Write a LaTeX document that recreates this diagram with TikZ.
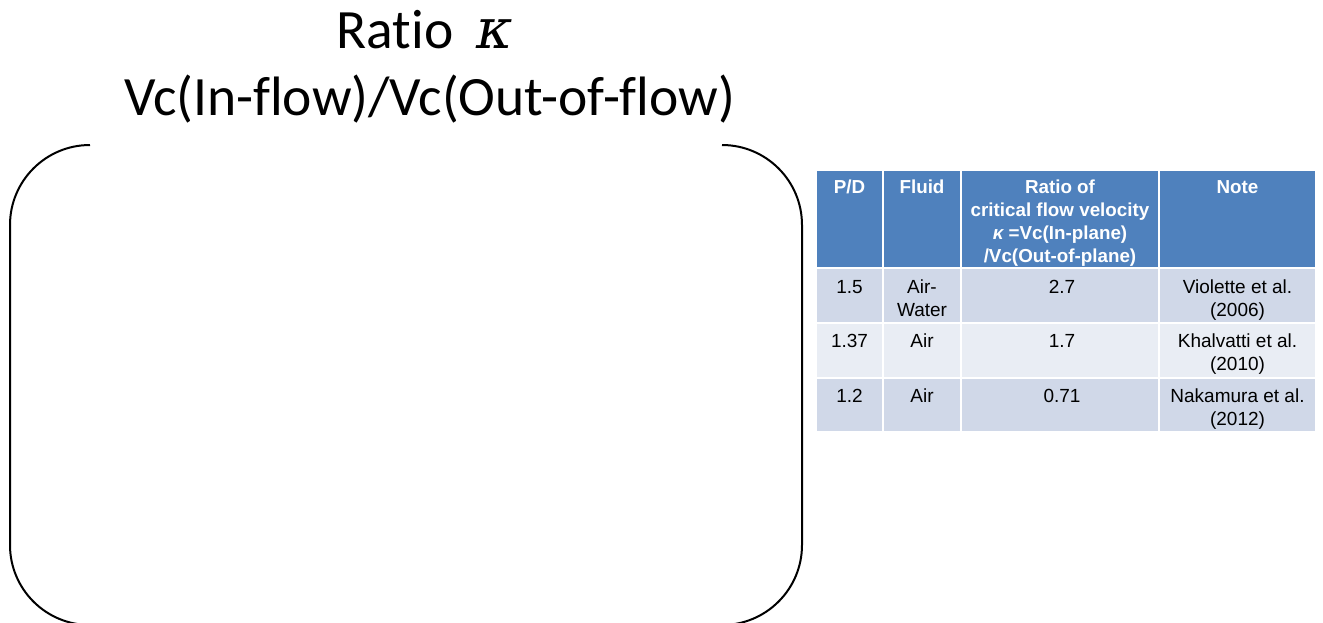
\documentclass[tikz,border=0pt]{standalone}
\usepackage{fontspec}
\setmainfont{Liberation Sans}
\newfontfamily\titlefont[Ligatures=NoCommon]{Carlito}
\newfontfamily\kappafont{DejaVu Serif}
\definecolor{hdrblue}{HTML}{4F81BD}
\definecolor{rowdark}{HTML}{D0D8E8}
\definecolor{rowlight}{HTML}{E9EDF4}
\begin{document}
\begin{tikzpicture}[x=1pt,y=-1pt,
  cellbox/.style={draw=white,line width=2.5pt},
  hdrtext/.style={anchor=north,inner sep=0pt,align=center,text=white,font=\fontsize{18.8}{23}\selectfont\bfseries},
  bodytext/.style={anchor=north,inner sep=0pt,align=center,text=black,font=\fontsize{19}{23}\selectfont},
  frame/.style={line width=2pt,black},
  titletext/.style={anchor=base,inner sep=0pt,font=\titlefont\fontsize{55.5}{60}\selectfont}]
\clip (0,0) rectangle (1323,622);
\fill[white] (0,0) rectangle (1323,622);
% title
\node[titletext] (t1) at (425,48) {Ratio\hspace{0.42em}{\kappafont\itshape κ}};
\node[titletext] (t2) at (430,115) {Vc(In-flow)/Vc(Out-of-flow)};
% rounded frame halves
\draw[frame] (90,145) arc[start angle=-90,end angle=-180,radius=80] -- (10,545) arc[start angle=180,end angle=90,radius=80];
\draw[frame] (722,145) arc[start angle=-90,end angle=0,radius=80] -- (802,545) arc[start angle=0,end angle=90,radius=80];
% table cells
\foreach \xa/\xb in {816/883,883/961,961/1159,1159/1316}{
  \fill[hdrblue,cellbox] (\xa,170) rectangle (\xb,268);
  \fill[rowdark,cellbox] (\xa,268) rectangle (\xb,323);
  \fill[rowlight,cellbox] (\xa,323) rectangle (\xb,378);
  \fill[rowdark,cellbox] (\xa,378) rectangle (\xb,432);
}
% header
\node[hdrtext] (h1) at (849.5,177) {\strut P/D};
\node[hdrtext] (h2) at (922,177) {\strut Fluid};
\node[hdrtext] (h3) at (1060,177) {\strut Ratio of\\critical flow velocity\\{\itshape κ} =Vc(In-plane)\\/Vc(Out-of-plane)};
\node[hdrtext] (h4) at (1237.5,177) {\strut Note};
% row 1
\node[bodytext] (a1) at (849.5,277) {\strut 1.5};
\node[bodytext] (b1) at (922,277) {\strut Air-\\Water};
\node[bodytext] (c1) at (1062,277) {\strut 2.7};
\node[bodytext] (d1) at (1237.5,277) {\strut Violette et al.\\(2006)};
% row 2
\node[bodytext] (a2) at (849.5,331) {\strut 1.37};
\node[bodytext] (b2) at (922,331) {\strut Air};
\node[bodytext] (c2) at (1062,331) {\strut 1.7};
\node[bodytext] (d2) at (1237.5,331) {\strut Khalvatti et al.\\(2010)};
% row 3
\node[bodytext] (a3) at (849.5,386) {\strut 1.2};
\node[bodytext] (b3) at (922,386) {\strut Air};
\node[bodytext] (c3) at (1062,386) {\strut 0.71};
\node[bodytext] (d3) at (1237.5,386) {\strut Nakamura et al.\\(2012)};
\end{tikzpicture}
\end{document}
